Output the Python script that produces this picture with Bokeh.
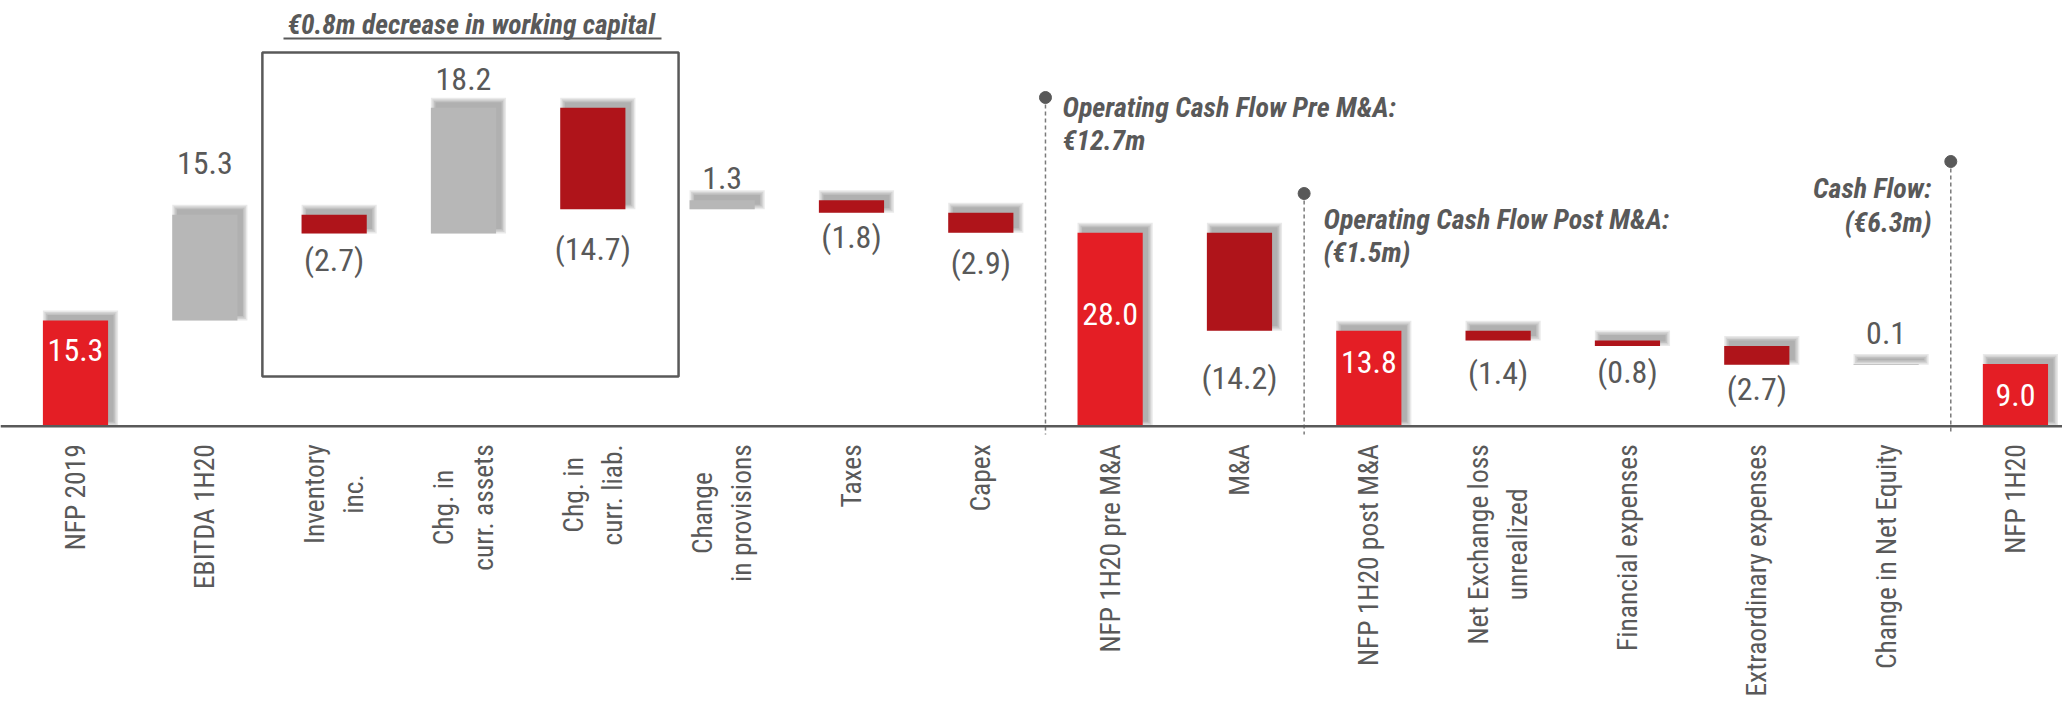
import math
from bokeh.plotting import figure
from bokeh.models import Range1d, Span
from bokeh.core.properties import value
from bokeh.embed import file_html
from bokeh.resources import INLINE

# ---------------- data ----------------
categories = ["NFP 2019", "EBITDA 1H20", "Inventory\ninc.", "Chg. in\ncurr. assets",
              "Chg. in\ncurr. liab.", "Change\nin provisions", "Taxes", "Capex",
              "NFP 1H20 pre M&A", "M&A", "NFP 1H20 post M&A",
              "Net Exchange loss\nunrealized", "Financial expenses",
              "Extraordinary expenses", "Change in Net Equity", "NFP 1H20"]
changes = [15.3, 15.3, -2.7, 18.2, -14.7, 1.3, -1.8, -2.9, 28.0, -14.2, 13.8,
           -1.4, -0.8, -2.7, 0.1, 9.0]
kinds = ["total", "up", "down", "up", "down", "up", "down", "down", "total",
         "down", "total", "down", "down", "down", "up", "total"]
value_labels = ["15.3", "15.3", "(2.7)", "18.2", "(14.7)", "1.3", "(1.8)", "(2.9)",
                "28.0", "(14.2)", "13.8", "(1.4)", "(0.8)", "(2.7)", "0.1", "9.0"]
title_text = "€0.8m decrease in working capital"
annot_pre = ["Operating Cash Flow Pre M&A:", "€12.7m"]
annot_post = ["Operating Cash Flow Post M&A:", "(€1.5m)"]
annot_cf = ["Cash Flow:", "(€6.3m)"]

# ---------------- styling ----------------
C_TOTAL = "#E41E25"
C_DOWN = "#AF141A"
C_UP = "#B7B7B7"
C_TEXT = "#595959"
FONT = "'Roboto Condensed', Roboto"
# label distance from bar edge (screen px)
label_gap = [30, 52, 27, 29, 40, 22, 24, 30, 81, 47, 31, 32, 26, 24, 31, 31]

W, H = 2062, 701
PX_X = 129.33          # px per category
PX_Y = 6.91            # px per unit
X0_PX = 75             # first category centre (px)
BASE_PX = 425.7        # baseline (px from top)

def fx(px):
    return (px - X0_PX) / PX_X

def fy(py):
    return (BASE_PX - py) / PX_Y

x_start = -X0_PX / PX_X
y_end = BASE_PX / PX_Y
p = figure(width=W, height=H, output_backend="svg", toolbar_location=None,
           x_range=Range1d(x_start, x_start + W / PX_X),
           y_range=Range1d(y_end - H / PX_Y, y_end),
           x_axis_location=None, y_axis_location=None, min_border=0,
           outline_line_color=None, background_fill_color="white",
           border_fill_color="white")
p.grid.visible = False

# waterfall geometry
bottoms, tops, colors = [], [], []
run = 0.0
for c, k in zip(changes, kinds):
    if k == "total":
        b, t = 0.0, c
        run = c
    else:
        b, t = sorted([run, run + c])
        run = run + c
    bottoms.append(b)
    tops.append(t)
    colors.append({"total": C_TOTAL, "up": C_UP, "down": C_DOWN}[k])

xs = list(range(len(categories)))
half = 0.252

# soft drop shadows (offset up-right)
SH_DX, SH_DY = 5, 5
for s in [5, 3.5, 2, 0.5]:
    p.quad(left=[x - half + (SH_DX - s) / PX_X for x in xs],
           right=[x + half + (SH_DX + s) / PX_X for x in xs],
           top=[t + (SH_DY + s) / PX_Y for t in tops],
           bottom=[max(b + (SH_DY - s) / PX_Y, 0) if k == "total" else b + (SH_DY - s) / PX_Y
                   for b, k in zip(bottoms, kinds)],
           fill_color="#000000", fill_alpha=0.085, line_color=None)

p.quad(left=[x - half for x in xs], right=[x + half for x in xs],
       top=tops, bottom=bottoms, fill_color=colors, line_color=None)

# baseline
p.add_layout(Span(location=0, dimension="width", line_color=C_TEXT, line_width=2.5))

# value labels
ly, lyo, lcol = [], [], []
for k, b, t, g in zip(kinds, bottoms, tops, label_gap):
    if k == "total":
        ly.append(t); lyo.append(g); lcol.append("white")
    elif k == "up":
        ly.append(t); lyo.append(-g); lcol.append(C_TEXT)
    else:
        ly.append(b); lyo.append(g); lcol.append(C_TEXT)
p.text(x=xs, y=ly, text=value_labels, y_offset=lyo, text_color=lcol,
       text_font=value(FONT), text_font_size="32px", text_align="center",
       text_baseline="middle")

# category labels (rotated, lines centred, block ending near the axis)
p.text(x=xs, y=[0] * len(xs), text=categories, angle=math.pi / 2, y_offset=18,
       anchor=value("center_right"), text_align="center", text_baseline="middle",
       text_color=C_TEXT, text_font=value(FONT), text_font_size="27.5px",
       text_line_height=1.2)

# working capital box + title
p.quad(left=[2 - 0.555], right=[4 + 0.663], top=[fy(52)], bottom=[fy(376)],
       fill_alpha=0, line_color=C_TEXT, line_width=2.5)
p.text(x=[3.06], y=[fy(24)], text=[title_text], text_align="center",
       text_baseline="middle", text_color=C_TEXT, text_font=value(FONT),
       text_font_style="bold italic", text_font_size="27.5px")
p.segment(x0=[fx(283)], x1=[fx(661)], y0=[fy(38)], y1=[fy(38)],
          line_color=C_TEXT, line_width=2)

# dashed separators with dots
sep_x = [7.5, 9.5, 14.5]
sep_top = [fy(97), fy(193), fy(161)]
p.segment(x0=sep_x, x1=sep_x, y0=sep_top, y1=[fy(434)] * 3, line_color="#7a7a7a",
          line_width=1.5, line_dash="4 3")
p.scatter(x=sep_x, y=sep_top, size=12, color=C_TEXT)

# annotation texts
ann_kw = dict(text_color=C_TEXT, text_font=value(FONT), text_font_style="bold italic",
              text_font_size="28px", text_baseline="middle")
p.text(x=[fx(1062)] * 2, y=[fy(107), fy(140)], text=annot_pre, text_align="left", **ann_kw)
p.text(x=[fx(1323)] * 2, y=[fy(219), fy(252)], text=annot_post, text_align="left", **ann_kw)
p.text(x=[fx(1931)] * 2, y=[fy(188), fy(222)], text=annot_cf, text_align="right", **ann_kw)

open("out.html", "w").write(file_html(p, INLINE))
